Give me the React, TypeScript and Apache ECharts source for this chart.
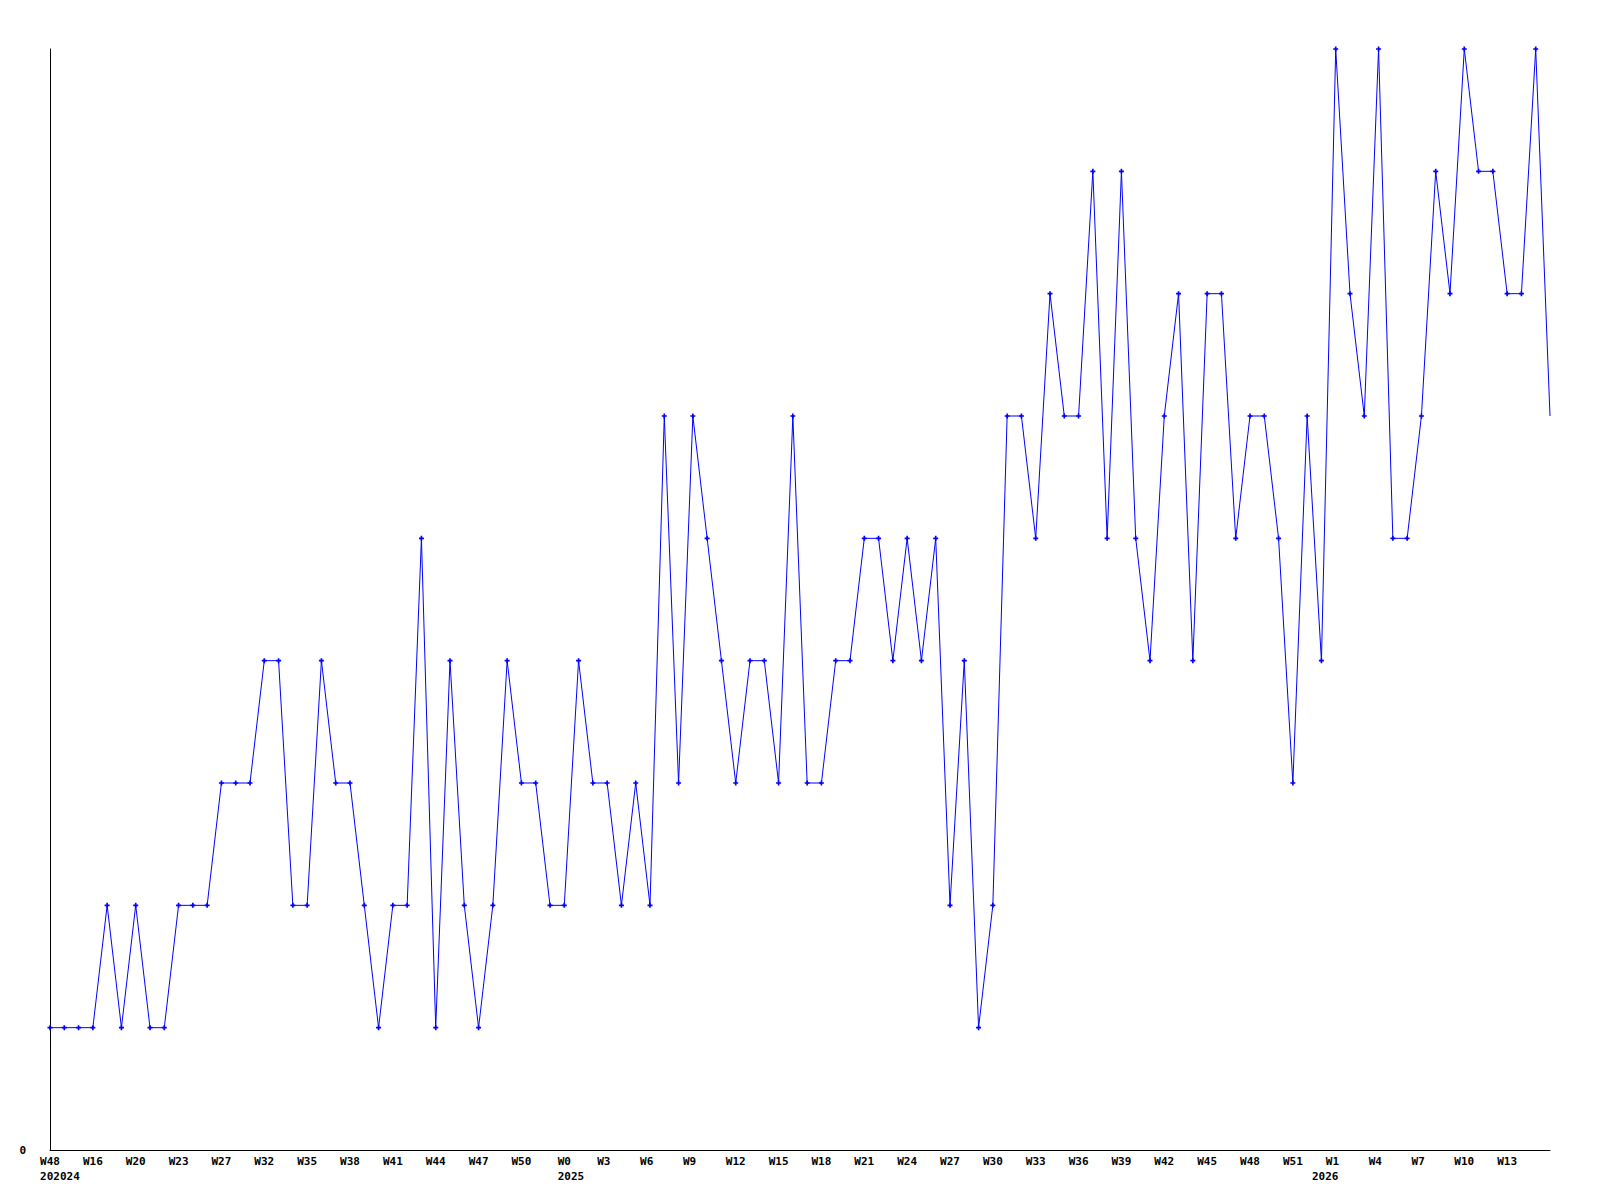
import React, { useEffect, useRef } from "react";
import * as echarts from "echarts";

const weekLabels: string[] = [
  "W48", "W16", "W20", "W23", "W27", "W32", "W35", "W38", "W41", "W44", "W47", "W50",
  "W0", "W3", "W6", "W9", "W12", "W15", "W18", "W21", "W24", "W27", "W30", "W33",
  "W36", "W39", "W42", "W45", "W48", "W51", "W1", "W4", "W7", "W10", "W13",
];
const yearLabels: Record<number, string> = { 0: "202024", 12: "2025", 30: "2026" };

const values: number[] = [
  1, 1, 1, 1, 2, 1, 2, 1, 1, 2, 2, 2, 3, 3, 3, 4, 4, 2, 2, 4, 3, 3, 2, 1, 2, 2, 5, 1, 4, 2,
  1, 2, 4, 3, 3, 2, 2, 4, 3, 3, 2, 3, 2, 6, 3, 6, 5, 4, 3, 4, 4, 3, 6, 3, 3, 4, 4, 5, 5, 4,
  5, 4, 5, 2, 4, 1, 2, 6, 6, 5, 7, 6, 6, 8, 5, 8, 5, 4, 6, 7, 4, 7, 7, 5, 6, 6, 5, 3, 6, 4,
  9, 7, 6, 9, 5, 5, 6, 8, 7, 9, 8, 8, 7, 7, 9, 6,
];

const LABEL_STEP = 3;
const CHAR_W = 6.62;

export default function App() {
  const ref = useRef<HTMLDivElement>(null);
  useEffect(() => {
    if (!ref.current) return;
    const chart = echarts.init(ref.current, null, { renderer: "svg" });
    const categories = values.map((_, i) => {
      if (i % LABEL_STEP !== 0) return "";
      const k = i / LABEL_STEP;
      const w = weekLabels[k] ?? "";
      const y = yearLabels[k];
      const wStyle = w.length === 2 && w !== "W0" ? "w2" : "w";
      let s = `{${wStyle}|${w}}`;
      if (y) {
        if (k === 0) s += `\n{yL20|${y}}`;
        else if (w === "W0") s += `\n{yL13|${y}}`;
        else s += `\n{yR|${y}}`;
      }
      return s;
    });
    const font = "'DejaVu Sans Mono', 'Liberation Mono', monospace";
    const base = {
      color: "#000",
      fontFamily: font,
      fontWeight: "bold" as const,
      fontSize: 11,
      lineHeight: 15,
    };
    const plus = "path://M2,0h2v2h2v2h-2v2h-2v-2h-2v-2h2z";
    chart.setOption({
      animation: false,
      backgroundColor: "#ffffff",
      grid: { left: 50, right: 50, top: 49, bottom: 50, containLabel: false },
      xAxis: {
        type: "category",
        data: categories,
        boundaryGap: false,
        axisLine: { lineStyle: { color: "#000", width: 1 } },
        axisTick: { show: false },
        splitLine: { show: false },
        axisLabel: {
          interval: 0,
          ...base,
          margin: 4,
          align: "center",
          rich: {
            w: { ...base },
            w2: { ...base, padding: [0, CHAR_W, 0, 0] },
            yL20: { ...base, padding: [0, 0, 0, CHAR_W * 3] },
            yL13: { ...base, padding: [0, 0, 0, CHAR_W * 2] },
            yR: { ...base, padding: [0, 21, 0, 0] },
          },
        },
      },
      yAxis: {
        type: "value",
        min: 0,
        max: 9,
        interval: 9,
        axisLine: { show: true, lineStyle: { color: "#000", width: 1 } },
        axisTick: { show: false },
        splitLine: { show: false },
        axisLabel: {
          ...base,
          margin: 24,
          formatter: (v: number) => (v === 0 ? "0" : ""),
        },
      },
      series: [
        {
          type: "line",
          data: values.map((v, i) =>
            i === values.length - 1 ? { value: v, symbol: "none" } : v
          ),
          symbol: plus,
          symbolSize: 5,
          showAllSymbol: true,
          lineStyle: { color: "#0000ff", width: 1 },
          itemStyle: { color: "#0000ff" },
        },
      ],
    });
    return () => chart.dispose();
  }, []);
  return (
    <div
      ref={ref}
      style={{ position: "fixed", left: 0, top: 0, width: 1600, height: 1200, background: "#fff" }}
    />
  );
}
